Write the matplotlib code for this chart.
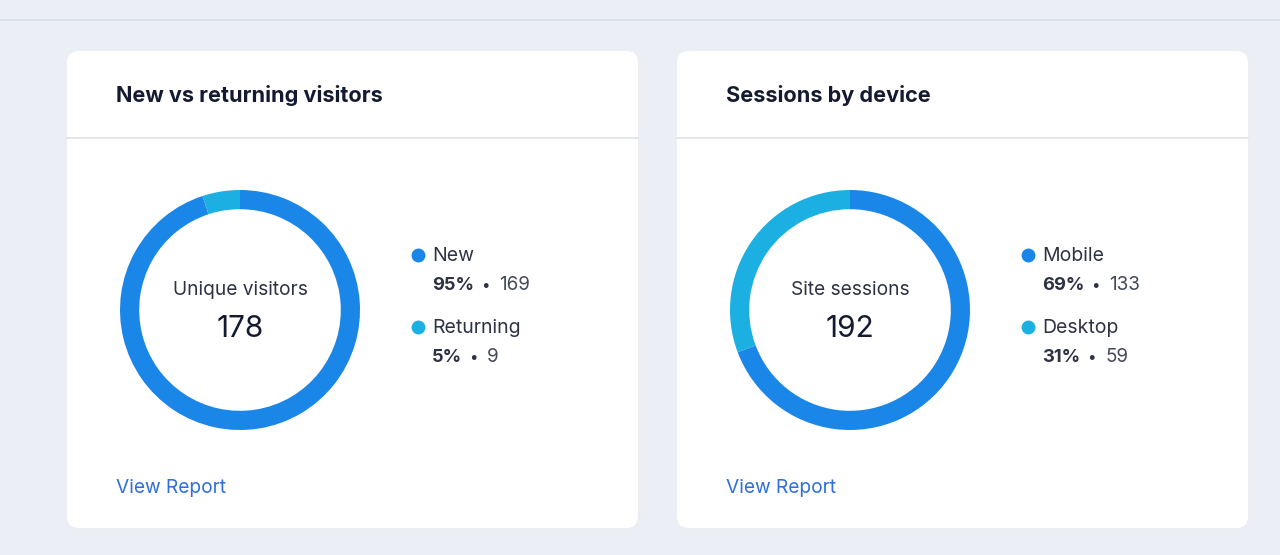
import matplotlib.pyplot as plt
from matplotlib.patches import FancyBboxPatch

plt.rcParams['font.family'] = ['Inter', 'DejaVu Sans']

W, H = 1280, 555

titles = ["New vs returning visitors", "Sessions by device"]
center_labels = ["Unique visitors", "Site sessions"]
totals = [178, 192]
categories = [["New", "Returning"], ["Mobile", "Desktop"]]
counts = [[169, 9], [133, 59]]
percents = [[95, 5], [69, 31]]

BG = "#EBEEF4"
BLUE = "#1A86E8"
LIGHT = "#1CB0E2"
DARK = "#141A30"
TEXT = "#2E3244"
LINK = "#2D6FDB"

fig = plt.figure(figsize=(W / 100, H / 100), dpi=100)
fig.patch.set_facecolor(BG)

# pixel-space background axes
bg = fig.add_axes([0, 0, 1, 1])
bg.set_xlim(0, W)
bg.set_ylim(H, 0)
bg.axis("off")

bg.plot([0, W], [20, 20], color="#DADEE6", lw=1.2)

renderer = fig.canvas.get_renderer()


def px_width(t):
    bb = t.get_window_extent(renderer=renderer)
    return bb.width


card_x = [67, 677]
for i in range(2):
    x0 = card_x[i]
    card = FancyBboxPatch((x0, 51), 571, 477, boxstyle="round,pad=0,rounding_size=12",
                          fc="white", ec="none")
    bg.add_patch(card)
    bg.plot([x0, x0 + 571], [138, 138], color="#DFE2E8", lw=1.2)
    bg.text(x0 + 49, 96, titles[i], fontsize=15.6, fontweight="bold", color=DARK,
            va="center", ha="left")
    bg.text(x0 + 49, 488, "View Report", fontsize=13.8, color=LINK, va="center", ha="left")

    # donut
    cx, cy, r = x0 + 173, 310, 120
    ax = fig.add_axes([(cx - r) / W, (H - cy - r) / H, 2 * r / W, 2 * r / H])
    ax.pie(counts[i], colors=[BLUE, LIGHT], startangle=90, counterclock=False,
           wedgeprops=dict(width=0.16, edgecolor="none"), radius=1)
    ax.set_xlim(-1, 1)
    ax.set_ylim(-1, 1)
    ax.axis("off")

    bg.text(cx, 290, center_labels[i], fontsize=13.8, color=TEXT, ha="center", va="center")
    bg.text(cx, 329, str(totals[i]), fontsize=21.5, color=DARK, ha="center", va="center")

    # legend
    lx = x0 + 365
    for j, (name, col) in enumerate(zip(categories[i], [BLUE, LIGHT])):
        ly = 256 + j * 72
        bg.plot(lx - 14, ly - 1, "o", ms=10, color=col, mec="none")
        bg.text(lx, ly, name, fontsize=14, color=TEXT, va="center", ha="left")
        t = bg.text(lx, ly + 29, f"{percents[i][j]}%", fontsize=13.2, fontweight="bold",
                    color=TEXT, va="center", ha="left")
        w = px_width(t)
        bg.text(lx + w + 11, ly + 29, "•", fontsize=11, color=TEXT, va="center", ha="center")
        bg.text(lx + w + 25, ly + 29, str(counts[i][j]), fontsize=13.6, color="#454A5A",
                va="center", ha="left")

fig.savefig("out.png", dpi=100, facecolor=BG)
